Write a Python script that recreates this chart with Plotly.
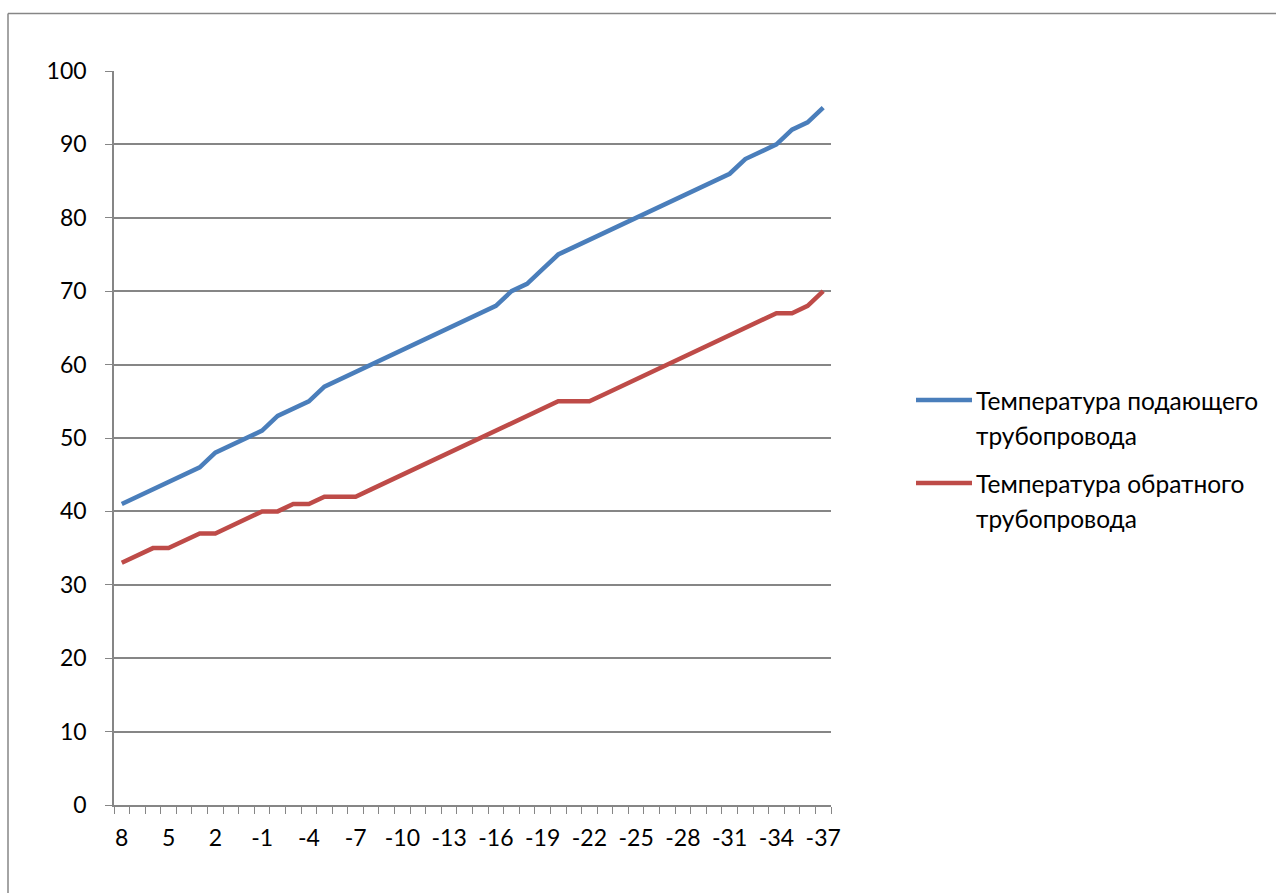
import plotly.graph_objects as go

# Outdoor air temperature, °C (category labels along the x axis)
outdoor_temp = [8, 7, 6, 5, 4, 3, 2, 1, 0, -1, -2, -3, -4, -5, -6, -7, -8, -9, -10,
                -11, -12, -13, -14, -15, -16, -17, -18, -19, -20, -21, -22, -23, -24,
                -25, -26, -27, -28, -29, -30, -31, -32, -33, -34, -35, -36, -37]

# Supply pipe temperature, °C
supply_temp = [41, 42, 43, 44, 45, 46, 48, 49, 50, 51, 53, 54, 55, 57, 58, 59, 60,
               61, 62, 63, 64, 65, 66, 67, 68, 70, 71, 73, 75, 76, 77, 78, 79, 80,
               81, 82, 83, 84, 85, 86, 88, 89, 90, 92, 93, 95]

# Return pipe temperature, °C
return_temp = [33, 34, 35, 35, 36, 37, 37, 38, 39, 40, 40, 41, 41, 42, 42, 42, 43,
               44, 45, 46, 47, 48, 49, 50, 51, 52, 53, 54, 55, 55, 55, 56, 57, 58,
               59, 60, 61, 62, 63, 64, 65, 66, 67, 67, 68, 70]

series_names = ["Температура подающего трубопровода",
                "Температура обратного трубопровода"]
series_colors = ["#4a7ebb", "#be4b48"]

label_step = 3
tick_idx = list(range(0, len(outdoor_temp), label_step))
tick_txt = [str(outdoor_temp[i]) for i in tick_idx]
x_idx = list(range(len(outdoor_temp)))

FONT = "Lato"
GRID = "#868686"

fig = go.Figure()
for name, vals, col in zip(series_names, [supply_temp, return_temp], series_colors):
    fig.add_trace(go.Scatter(
        x=x_idx, y=vals, mode="lines", name=name,
        line=dict(color=col, width=4.5),
        customdata=outdoor_temp,
        hovertemplate="%{customdata}: %{y}<extra>" + name + "</extra>",
        showlegend=False,
    ))

W, H = 1276, 893
L, R, T, B = 114, 445, 71, 88
PW, PH = W - L - R, H - T - B


def px_x(px):
    return (px - L) / PW


def px_y(py):
    return (H - B - py) / PH


shapes = [
    # chart frame (top and left edges)
    dict(type="line", xref="paper", yref="paper", x0=px_x(8), x1=px_x(W + 2),
         y0=px_y(13.5), y1=px_y(13.5), line=dict(color=GRID, width=1.5)),
    dict(type="line", xref="paper", yref="paper", x0=px_x(8), x1=px_x(8),
         y0=px_y(13.5), y1=px_y(H + 2), line=dict(color=GRID, width=1.5)),
]
annotations = []

# legend block on the right
legend_rows = [(400, 435), (483, 518)]
for (y1, y2), name, col in zip(legend_rows, series_names, series_colors):
    shapes.append(dict(type="line", xref="paper", yref="paper",
                       x0=px_x(916), x1=px_x(972), y0=px_y(y1), y1=px_y(y1),
                       line=dict(color=col, width=4.5)))
    first, second = name.rsplit(" ", 1)
    for txt, yy in ((first, y1), (second, y2)):
        annotations.append(dict(xref="paper", yref="paper", x=px_x(974), y=px_y(yy),
                                text=txt, showarrow=False, xanchor="left",
                                yanchor="middle",
                                font=dict(family=FONT, size=24.5, color="#000000")))

fig.update_layout(
    width=W, height=H,
    margin=dict(l=L, r=R, t=T, b=B, pad=0),
    paper_bgcolor="white", plot_bgcolor="white",
    font=dict(family=FONT, size=23, color="#000000"),
    shapes=shapes, annotations=annotations,
    xaxis=dict(
        range=[-0.5, len(outdoor_temp) - 0.5],
        tickmode="array", tickvals=tick_idx, ticktext=tick_txt,
        ticks="", showgrid=False, zeroline=False,
        showline=True, linecolor=GRID, linewidth=1.5,
        ticklabelstandoff=12,
        minor=dict(ticks="outside", tick0=-0.5, dtick=1, ticklen=7,
                   tickcolor=GRID, tickwidth=1.2, showgrid=False),
    ),
    yaxis=dict(
        range=[0, 100], dtick=10, tick0=0,
        showgrid=True, gridcolor=GRID, gridwidth=1.5,
        zeroline=False, showline=True, linecolor=GRID, linewidth=1.5,
        ticks="outside", ticklen=7, tickcolor=GRID, tickwidth=1.2,
        ticklabelstandoff=14,
    ),
)

fig.write_html("out.html")
